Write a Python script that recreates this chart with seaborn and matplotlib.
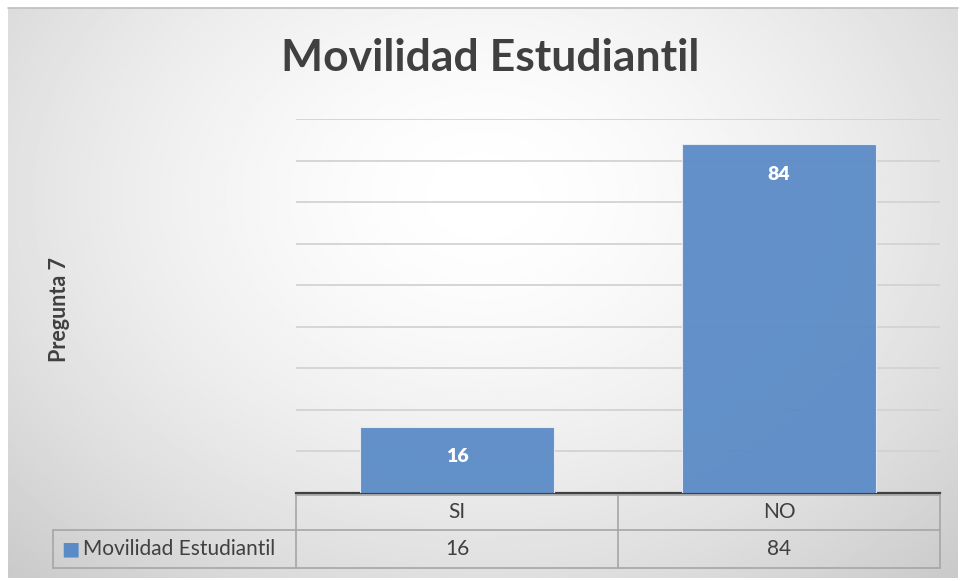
import numpy as np
import pandas as pd
import matplotlib
matplotlib.use('Agg')
import matplotlib.pyplot as plt
import matplotlib.transforms as mtransforms
import seaborn as sns

# datos del grafico
categorias = ['SI', 'NO']
valores = [16, 84]
serie = 'Movilidad Estudiantil'
eje_y = 'Pregunta 7'

df = pd.DataFrame({'respuesta': categorias, 'valor': valores})

sns.set_style('white')
plt.rcParams['font.family'] = ['Lato', 'DejaVu Sans']

W, H = 960, 581
fig = plt.figure(figsize=(W / 100, H / 100), dpi=100)
fig.patch.set_facecolor('white')

# fondo con degradado radial (como en Excel)
bg = fig.add_axes([8 / W, 1 - 578 / H, 950 / W, 570 / H])
yy, xx = np.mgrid[0:1:300j, 0:1:500j]
r = np.sqrt(((xx - 0.5) / 0.75) ** 2 + ((yy - 0.33) / 0.95) ** 2)
r = np.clip(r, 0, 1)
grad = 1.0 - 0.22 * r ** 1.6
bg.imshow(grad, cmap='gray', vmin=0, vmax=1, aspect='auto', extent=[0, 1, 1, 0])
bg.set_axis_off()
fig.add_artist(plt.Line2D([8 / W, 958 / W], [1 - 8 / H, 1 - 8 / H],
                          color='#BFBFBF', lw=1.2))

# area de grafico
ax = fig.add_axes([296 / W, 1 - 493 / H, 644 / W, 374 / H])
ax.patch.set_alpha(0)
sns.barplot(data=df, x='respuesta', y='valor', color='#5B8BC6', width=0.6,
            edgecolor='#E8EEF7', linewidth=0.8, saturation=1, ax=ax, zorder=3)
for p in ax.patches:
    p.set_alpha(0.95)
ax.set_ylim(0, 90)
ax.set_xlim(-0.5, 1.5)
ax.set_yticks(np.arange(10, 91, 10))
ax.yaxis.grid(True, color='#D3D3D3', lw=1.3, zorder=0)
ax.set_yticklabels([])
ax.tick_params(left=False, bottom=False, labelbottom=False)
for s in ['top', 'right', 'left']:
    ax.spines[s].set_visible(False)
ax.spines['bottom'].set_color('#404040')
ax.spines['bottom'].set_linewidth(1.6)
ax.set_xlabel('')
ax.set_ylabel('')

for c in ax.containers:
    ax.bar_label(c, labels=[str(v) for v in valores], padding=-28,
                 color='white', fontsize=14, fontweight='heavy')

# titulo y rotulo del eje
fig.text(490 / W, 1 - 58 / H, serie, ha='center', va='center',
         fontsize=32, fontweight='bold', color='#404040')
fig.text(60 / W, 1 - 309 / H, eje_y, rotation=90, ha='center', va='center',
         fontsize=15.5, fontweight='bold', color='#404040')

# tabla de datos (columnas alineadas con las categorias)
tr = mtransforms.blended_transform_factory(ax.transData, fig.transFigure)
y_top, y_mid, y_bot = 1 - 495 / H, 1 - 530 / H, 1 - 568 / H
x0, x1 = -0.5, len(categorias) - 0.5
lc = '#A6A6A6'
fs = 15
ax.add_line(plt.Line2D([x0, x1], [y_top, y_top], transform=tr, color=lc,
                       lw=1.2, clip_on=False))
for yv in [y_mid, y_bot]:
    fig.add_artist(plt.Line2D([53 / W, 940 / W], [yv, yv], color=lc, lw=1.2))
for i in range(len(categorias) + 1):
    ax.add_line(plt.Line2D([x0 + i, x0 + i], [y_bot, y_top], transform=tr,
                           color=lc, lw=1.2, clip_on=False))
fig.add_artist(plt.Line2D([53 / W, 53 / W], [y_bot, y_mid], color=lc, lw=1.2))
for i, (cat, v) in enumerate(zip(categorias, valores)):
    ax.text(i, (y_top + y_mid) / 2, cat, transform=tr, ha='center',
            va='center', fontsize=fs, color='#404040')
    ax.text(i, (y_mid + y_bot) / 2, str(v), transform=tr, ha='center',
            va='center', fontsize=fs, color='#404040')
fig.text(70 / W, (y_mid + y_bot) / 2, '■', ha='center', va='center',
         fontsize=14, color='#5B8BC6', family='DejaVu Sans')
fig.text(83 / W, (y_mid + y_bot) / 2, serie, ha='left', va='center',
         fontsize=fs, color='#404040')

fig.savefig('out.png', dpi=100)
